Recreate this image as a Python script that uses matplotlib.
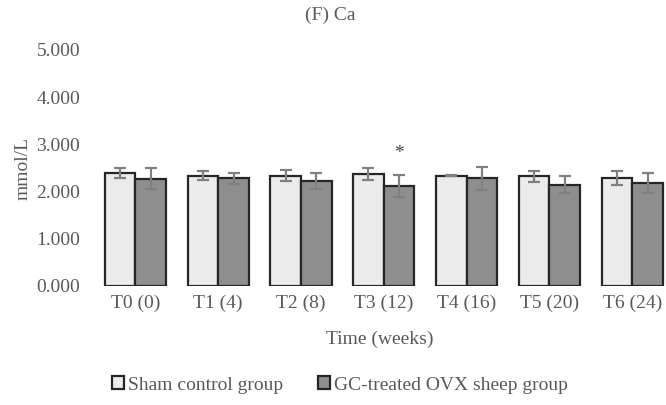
import numpy as np
import matplotlib.pyplot as plt

times = ["T0 (0)", "T1 (4)", "T2 (8)", "T3 (12)", "T4 (16)", "T5 (20)", "T6 (24)"]
sham_mean = [2.39, 2.34, 2.34, 2.37, 2.34, 2.32, 2.28]
sham_sd = [0.11, 0.10, 0.12, 0.12, 0.02, 0.11, 0.15]
gc_mean = [2.27, 2.28, 2.22, 2.12, 2.28, 2.15, 2.18]
gc_sd = [0.22, 0.12, 0.17, 0.23, 0.25, 0.17, 0.21]
star_idx = [3]

plt.rcParams['font.family'] = ['Liberation Serif', 'DejaVu Serif']
txt = '#595959'

fig = plt.figure(figsize=(6.66, 4.05), dpi=100)
ax = fig.add_axes([94 / 666, 119 / 405, 572 / 666, 236 / 405])

x = np.arange(len(times))
w = 0.37
err_kw = dict(ecolor='#808080', elinewidth=1.6, capsize=4, capthick=1.6)
ax.bar(x - w / 2, sham_mean, w, yerr=sham_sd, color='#ebebeb', edgecolor='#262626',
       linewidth=1.6, error_kw=err_kw, label='Sham control group')
ax.bar(x + w / 2, gc_mean, w, yerr=gc_sd, color='#8e8e8e', edgecolor='#262626',
       linewidth=1.6, error_kw=err_kw, label='GC-treated OVX sheep group')

for i in star_idx:
    ax.text(x[i] + w / 2, gc_mean[i] + gc_sd[i] + 0.45, '*', ha='center', va='center',
            fontsize=14, color='#404040')

ax.set_xlim(-0.5, -0.5 + 572 / 82.8)
ax.set_ylim(0, 5)
ax.set_yticks(np.arange(0, 6, 1))
ax.set_yticklabels([f"{v:.3f}" for v in np.arange(0, 6, 1)])
ax.set_xticks(x)
ax.set_xticklabels(times)
ax.tick_params(length=0, labelsize=14, labelcolor=txt)
ax.tick_params(axis='y', pad=10)
ax.tick_params(axis='x', pad=6)
for s in ax.spines.values():
    s.set_visible(False)

ax.set_ylabel('mmol/L', fontsize=14, color=txt, labelpad=3)
ax.set_xlabel('Time (weeks)', fontsize=14, color=txt, labelpad=14)
fig.text(330 / 666, 1 - 15 / 405, '(F) Ca', ha='center', va='center', fontsize=14, color=txt)

fig.legend(loc='center', bbox_to_anchor=(340 / 666, 1 - 385 / 405), ncol=2, frameon=False,
           fontsize=14, labelcolor=txt, handlelength=0.6, handleheight=0.6,
           handletextpad=0.2, columnspacing=1.8)

fig.savefig('out.png', dpi=100)
